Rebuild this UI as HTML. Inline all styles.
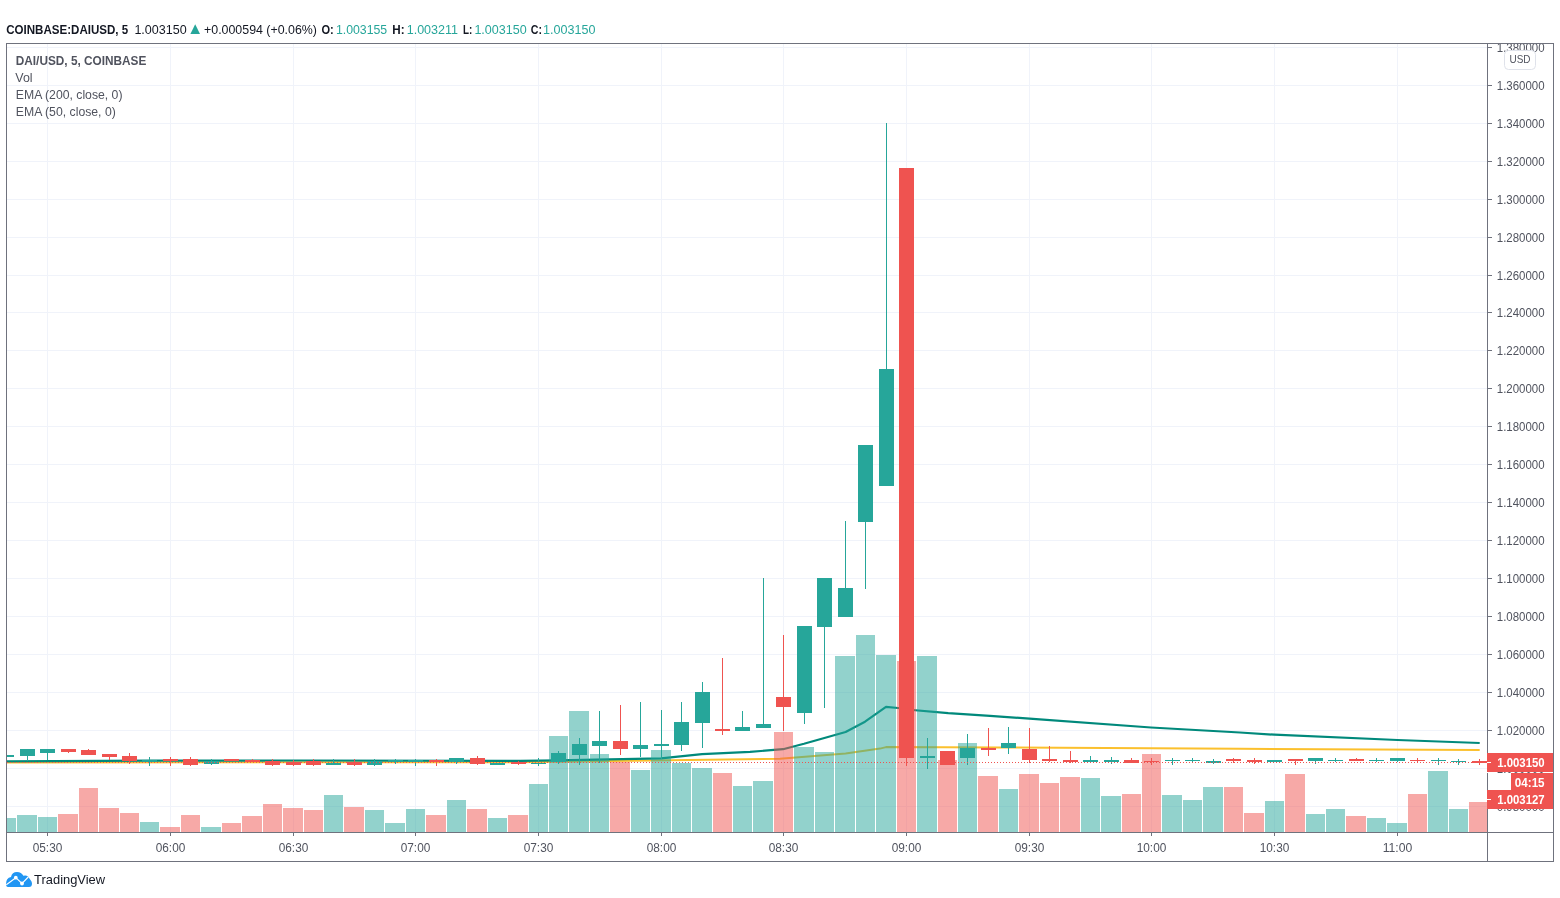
<!DOCTYPE html><html><head><meta charset="utf-8"><style>html,body{margin:0;padding:0;width:1560px;height:898px;overflow:hidden;background:#fff}</style></head><body><svg width="1560" height="898" viewBox="0 0 1560 898" style="position:absolute;left:0;top:0;will-change:transform">
<rect x="0" y="0" width="1560" height="898" fill="#ffffff"/>
<defs><clipPath id="pane"><rect x="7" y="44" width="1480" height="788"/></clipPath></defs>
<g clip-path="url(#pane)" shape-rendering="crispEdges">
<rect x="7" y="47" width="1480" height="1" fill="#f0f3fa"/>
<rect x="7" y="85" width="1480" height="1" fill="#f0f3fa"/>
<rect x="7" y="123" width="1480" height="1" fill="#f0f3fa"/>
<rect x="7" y="161" width="1480" height="1" fill="#f0f3fa"/>
<rect x="7" y="199" width="1480" height="1" fill="#f0f3fa"/>
<rect x="7" y="237" width="1480" height="1" fill="#f0f3fa"/>
<rect x="7" y="275" width="1480" height="1" fill="#f0f3fa"/>
<rect x="7" y="312" width="1480" height="1" fill="#f0f3fa"/>
<rect x="7" y="350" width="1480" height="1" fill="#f0f3fa"/>
<rect x="7" y="388" width="1480" height="1" fill="#f0f3fa"/>
<rect x="7" y="426" width="1480" height="1" fill="#f0f3fa"/>
<rect x="7" y="464" width="1480" height="1" fill="#f0f3fa"/>
<rect x="7" y="502" width="1480" height="1" fill="#f0f3fa"/>
<rect x="7" y="540" width="1480" height="1" fill="#f0f3fa"/>
<rect x="7" y="578" width="1480" height="1" fill="#f0f3fa"/>
<rect x="7" y="616" width="1480" height="1" fill="#f0f3fa"/>
<rect x="7" y="654" width="1480" height="1" fill="#f0f3fa"/>
<rect x="7" y="692" width="1480" height="1" fill="#f0f3fa"/>
<rect x="7" y="730" width="1480" height="1" fill="#f0f3fa"/>
<rect x="7" y="768" width="1480" height="1" fill="#f0f3fa"/>
<rect x="7" y="806" width="1480" height="1" fill="#f0f3fa"/>
<rect x="47" y="44" width="1" height="788" fill="#f0f3fa"/>
<rect x="170" y="44" width="1" height="788" fill="#f0f3fa"/>
<rect x="293" y="44" width="1" height="788" fill="#f0f3fa"/>
<rect x="415" y="44" width="1" height="788" fill="#f0f3fa"/>
<rect x="538" y="44" width="1" height="788" fill="#f0f3fa"/>
<rect x="661" y="44" width="1" height="788" fill="#f0f3fa"/>
<rect x="783" y="44" width="1" height="788" fill="#f0f3fa"/>
<rect x="906" y="44" width="1" height="788" fill="#f0f3fa"/>
<rect x="1029" y="44" width="1" height="788" fill="#f0f3fa"/>
<rect x="1151" y="44" width="1" height="788" fill="#f0f3fa"/>
<rect x="1274" y="44" width="1" height="788" fill="#f0f3fa"/>
<rect x="1397" y="44" width="1" height="788" fill="#f0f3fa"/>
</g>
<g clip-path="url(#pane)">
<polyline fill="none" stroke="#fbc02d" stroke-width="2" stroke-linejoin="round" points="6,762.4 520,762.2 780,758.7 845.6,753.6 880,748.6 886,747.1 1000,747.4 1240,748.8 1479.7,750"/>
<polyline fill="none" stroke="#00897b" stroke-width="2.2" stroke-linejoin="round" points="6,761.4 150,760.6 300,760.5 520,760.8 558,760.3 661,758.3 702,754.2 750,751.9 783,749.2 804,743.8 845.6,732 865,721.7 886,706.8 898,708 906.8,709.5 948.2,713.2 990,715.8 1029.5,718.7 1151,727.5 1240,732.5 1274.3,734.7 1397.5,740 1479.7,743"/>
</g>
<g clip-path="url(#pane)" shape-rendering="crispEdges">
<rect x="-3" y="818" width="19" height="14" fill="rgba(38,166,154,0.5)"/>
<rect x="17" y="815" width="20" height="17" fill="rgba(38,166,154,0.5)"/>
<rect x="38" y="817" width="19" height="15" fill="rgba(38,166,154,0.5)"/>
<rect x="58" y="814" width="20" height="18" fill="rgba(239,83,80,0.5)"/>
<rect x="79" y="788" width="19" height="44" fill="rgba(239,83,80,0.5)"/>
<rect x="99" y="808" width="20" height="24" fill="rgba(239,83,80,0.5)"/>
<rect x="120" y="813" width="19" height="19" fill="rgba(239,83,80,0.5)"/>
<rect x="140" y="822" width="19" height="10" fill="rgba(38,166,154,0.5)"/>
<rect x="160" y="827" width="20" height="5" fill="rgba(239,83,80,0.5)"/>
<rect x="181" y="815" width="19" height="17" fill="rgba(239,83,80,0.5)"/>
<rect x="201" y="827" width="20" height="5" fill="rgba(38,166,154,0.5)"/>
<rect x="222" y="823" width="19" height="9" fill="rgba(239,83,80,0.5)"/>
<rect x="242" y="816" width="20" height="16" fill="rgba(239,83,80,0.5)"/>
<rect x="263" y="804" width="19" height="28" fill="rgba(239,83,80,0.5)"/>
<rect x="283" y="808" width="20" height="24" fill="rgba(239,83,80,0.5)"/>
<rect x="304" y="810" width="19" height="22" fill="rgba(239,83,80,0.5)"/>
<rect x="324" y="795" width="19" height="37" fill="rgba(38,166,154,0.5)"/>
<rect x="344" y="807" width="20" height="25" fill="rgba(239,83,80,0.5)"/>
<rect x="365" y="810" width="19" height="22" fill="rgba(38,166,154,0.5)"/>
<rect x="385" y="823" width="20" height="9" fill="rgba(38,166,154,0.5)"/>
<rect x="406" y="809" width="19" height="23" fill="rgba(38,166,154,0.5)"/>
<rect x="426" y="815" width="20" height="17" fill="rgba(239,83,80,0.5)"/>
<rect x="447" y="800" width="19" height="32" fill="rgba(38,166,154,0.5)"/>
<rect x="467" y="809" width="20" height="23" fill="rgba(239,83,80,0.5)"/>
<rect x="488" y="818" width="19" height="14" fill="rgba(38,166,154,0.5)"/>
<rect x="508" y="815" width="20" height="17" fill="rgba(239,83,80,0.5)"/>
<rect x="529" y="784" width="19" height="48" fill="rgba(38,166,154,0.5)"/>
<rect x="549" y="736" width="19" height="96" fill="rgba(38,166,154,0.5)"/>
<rect x="569" y="711" width="20" height="121" fill="rgba(38,166,154,0.5)"/>
<rect x="590" y="754" width="19" height="78" fill="rgba(38,166,154,0.5)"/>
<rect x="610" y="762" width="20" height="70" fill="rgba(239,83,80,0.5)"/>
<rect x="631" y="770" width="19" height="62" fill="rgba(38,166,154,0.5)"/>
<rect x="651" y="750" width="20" height="82" fill="rgba(38,166,154,0.5)"/>
<rect x="672" y="763" width="19" height="69" fill="rgba(38,166,154,0.5)"/>
<rect x="692" y="768" width="20" height="64" fill="rgba(38,166,154,0.5)"/>
<rect x="713" y="773" width="19" height="59" fill="rgba(239,83,80,0.5)"/>
<rect x="733" y="786" width="19" height="46" fill="rgba(38,166,154,0.5)"/>
<rect x="753" y="781" width="20" height="51" fill="rgba(38,166,154,0.5)"/>
<rect x="774" y="732" width="19" height="100" fill="rgba(239,83,80,0.5)"/>
<rect x="794" y="747" width="20" height="85" fill="rgba(38,166,154,0.5)"/>
<rect x="815" y="752" width="19" height="80" fill="rgba(38,166,154,0.5)"/>
<rect x="835" y="656" width="20" height="176" fill="rgba(38,166,154,0.5)"/>
<rect x="856" y="635" width="19" height="197" fill="rgba(38,166,154,0.5)"/>
<rect x="876" y="655" width="20" height="177" fill="rgba(38,166,154,0.5)"/>
<rect x="897" y="661" width="19" height="171" fill="rgba(239,83,80,0.5)"/>
<rect x="917" y="656" width="20" height="176" fill="rgba(38,166,154,0.5)"/>
<rect x="938" y="760" width="19" height="72" fill="rgba(239,83,80,0.5)"/>
<rect x="958" y="743" width="19" height="89" fill="rgba(38,166,154,0.5)"/>
<rect x="978" y="776" width="20" height="56" fill="rgba(239,83,80,0.5)"/>
<rect x="999" y="789" width="19" height="43" fill="rgba(38,166,154,0.5)"/>
<rect x="1019" y="774" width="20" height="58" fill="rgba(239,83,80,0.5)"/>
<rect x="1040" y="783" width="19" height="49" fill="rgba(239,83,80,0.5)"/>
<rect x="1060" y="777" width="20" height="55" fill="rgba(239,83,80,0.5)"/>
<rect x="1081" y="778" width="19" height="54" fill="rgba(38,166,154,0.5)"/>
<rect x="1101" y="796" width="20" height="36" fill="rgba(38,166,154,0.5)"/>
<rect x="1122" y="794" width="19" height="38" fill="rgba(239,83,80,0.5)"/>
<rect x="1142" y="754" width="19" height="78" fill="rgba(239,83,80,0.5)"/>
<rect x="1162" y="795" width="20" height="37" fill="rgba(38,166,154,0.5)"/>
<rect x="1183" y="800" width="19" height="32" fill="rgba(38,166,154,0.5)"/>
<rect x="1203" y="787" width="20" height="45" fill="rgba(38,166,154,0.5)"/>
<rect x="1224" y="787" width="19" height="45" fill="rgba(239,83,80,0.5)"/>
<rect x="1244" y="813" width="20" height="19" fill="rgba(239,83,80,0.5)"/>
<rect x="1265" y="801" width="19" height="31" fill="rgba(38,166,154,0.5)"/>
<rect x="1285" y="774" width="20" height="58" fill="rgba(239,83,80,0.5)"/>
<rect x="1306" y="814" width="19" height="18" fill="rgba(38,166,154,0.5)"/>
<rect x="1326" y="809" width="19" height="23" fill="rgba(38,166,154,0.5)"/>
<rect x="1346" y="816" width="20" height="16" fill="rgba(239,83,80,0.5)"/>
<rect x="1367" y="818" width="19" height="14" fill="rgba(38,166,154,0.5)"/>
<rect x="1387" y="823" width="20" height="9" fill="rgba(38,166,154,0.5)"/>
<rect x="1408" y="794" width="19" height="38" fill="rgba(239,83,80,0.5)"/>
<rect x="1428" y="771" width="20" height="61" fill="rgba(38,166,154,0.5)"/>
<rect x="1449" y="809" width="19" height="23" fill="rgba(38,166,154,0.5)"/>
<rect x="1469" y="802" width="20" height="30" fill="rgba(239,83,80,0.5)"/>
</g>
<g clip-path="url(#pane)" shape-rendering="crispEdges">
<rect x="-1" y="755" width="15" height="2" fill="#26a69a"/>
<rect x="6" y="755" width="1" height="2" fill="#26a69a"/>
<rect x="20" y="749" width="15" height="7" fill="#26a69a"/>
<rect x="27" y="749" width="1" height="12" fill="#26a69a"/>
<rect x="40" y="749" width="15" height="4" fill="#26a69a"/>
<rect x="47" y="749" width="1" height="11" fill="#26a69a"/>
<rect x="61" y="749" width="15" height="3" fill="#ef5350"/>
<rect x="68" y="749" width="1" height="4" fill="#ef5350"/>
<rect x="81" y="750" width="15" height="5" fill="#ef5350"/>
<rect x="88" y="749" width="1" height="6" fill="#ef5350"/>
<rect x="102" y="754" width="15" height="3" fill="#ef5350"/>
<rect x="109" y="754" width="1" height="6" fill="#ef5350"/>
<rect x="122" y="756" width="15" height="5" fill="#ef5350"/>
<rect x="129" y="753" width="1" height="11" fill="#ef5350"/>
<rect x="142" y="760" width="15" height="2" fill="#26a69a"/>
<rect x="149" y="757" width="1" height="9" fill="#26a69a"/>
<rect x="163" y="759" width="15" height="2" fill="#ef5350"/>
<rect x="170" y="757" width="1" height="9" fill="#ef5350"/>
<rect x="183" y="759" width="15" height="6" fill="#ef5350"/>
<rect x="190" y="757" width="1" height="9" fill="#ef5350"/>
<rect x="204" y="761" width="15" height="3" fill="#26a69a"/>
<rect x="211" y="759" width="1" height="6" fill="#26a69a"/>
<rect x="224" y="759" width="15" height="2" fill="#ef5350"/>
<rect x="231" y="759" width="1" height="2" fill="#ef5350"/>
<rect x="245" y="760" width="15" height="2" fill="#ef5350"/>
<rect x="252" y="759" width="1" height="3" fill="#ef5350"/>
<rect x="265" y="761" width="15" height="4" fill="#ef5350"/>
<rect x="272" y="759" width="1" height="7" fill="#ef5350"/>
<rect x="286" y="762" width="15" height="3" fill="#ef5350"/>
<rect x="293" y="760" width="1" height="6" fill="#ef5350"/>
<rect x="306" y="761" width="15" height="4" fill="#ef5350"/>
<rect x="313" y="759" width="1" height="7" fill="#ef5350"/>
<rect x="326" y="763" width="15" height="2" fill="#26a69a"/>
<rect x="333" y="759" width="1" height="6" fill="#26a69a"/>
<rect x="347" y="762" width="15" height="3" fill="#ef5350"/>
<rect x="354" y="759" width="1" height="7" fill="#ef5350"/>
<rect x="367" y="761" width="15" height="4" fill="#26a69a"/>
<rect x="374" y="759" width="1" height="7" fill="#26a69a"/>
<rect x="388" y="760" width="15" height="2" fill="#26a69a"/>
<rect x="395" y="759" width="1" height="5" fill="#26a69a"/>
<rect x="408" y="760" width="15" height="2" fill="#26a69a"/>
<rect x="415" y="759" width="1" height="7" fill="#26a69a"/>
<rect x="429" y="760" width="15" height="2" fill="#ef5350"/>
<rect x="436" y="759" width="1" height="7" fill="#ef5350"/>
<rect x="449" y="758" width="15" height="4" fill="#26a69a"/>
<rect x="456" y="758" width="1" height="6" fill="#26a69a"/>
<rect x="470" y="758" width="15" height="6" fill="#ef5350"/>
<rect x="477" y="756" width="1" height="9" fill="#ef5350"/>
<rect x="490" y="763" width="15" height="2" fill="#26a69a"/>
<rect x="497" y="763" width="1" height="2" fill="#26a69a"/>
<rect x="511" y="762" width="15" height="2" fill="#ef5350"/>
<rect x="518" y="761" width="1" height="4" fill="#ef5350"/>
<rect x="531" y="763" width="15" height="1" fill="#26a69a"/>
<rect x="538" y="758" width="1" height="8" fill="#26a69a"/>
<rect x="551" y="753" width="15" height="9" fill="#26a69a"/>
<rect x="558" y="751" width="1" height="13" fill="#26a69a"/>
<rect x="572" y="744" width="15" height="11" fill="#26a69a"/>
<rect x="579" y="738" width="1" height="27" fill="#26a69a"/>
<rect x="592" y="741" width="15" height="5" fill="#26a69a"/>
<rect x="599" y="711" width="1" height="52" fill="#26a69a"/>
<rect x="613" y="741" width="15" height="8" fill="#ef5350"/>
<rect x="620" y="705" width="1" height="50" fill="#ef5350"/>
<rect x="633" y="745" width="15" height="4" fill="#26a69a"/>
<rect x="640" y="702" width="1" height="55" fill="#26a69a"/>
<rect x="654" y="744" width="15" height="2" fill="#26a69a"/>
<rect x="661" y="710" width="1" height="49" fill="#26a69a"/>
<rect x="674" y="722" width="15" height="23" fill="#26a69a"/>
<rect x="681" y="702" width="1" height="49" fill="#26a69a"/>
<rect x="695" y="692" width="15" height="31" fill="#26a69a"/>
<rect x="702" y="682" width="1" height="66" fill="#26a69a"/>
<rect x="715" y="729" width="15" height="2" fill="#ef5350"/>
<rect x="722" y="658" width="1" height="77" fill="#ef5350"/>
<rect x="735" y="727" width="15" height="4" fill="#26a69a"/>
<rect x="742" y="711" width="1" height="20" fill="#26a69a"/>
<rect x="756" y="724" width="15" height="4" fill="#26a69a"/>
<rect x="763" y="578" width="1" height="150" fill="#26a69a"/>
<rect x="776" y="697" width="15" height="10" fill="#ef5350"/>
<rect x="783" y="635" width="1" height="96" fill="#ef5350"/>
<rect x="797" y="626" width="15" height="87" fill="#26a69a"/>
<rect x="804" y="626" width="1" height="98" fill="#26a69a"/>
<rect x="817" y="578" width="15" height="49" fill="#26a69a"/>
<rect x="824" y="578" width="1" height="130" fill="#26a69a"/>
<rect x="838" y="588" width="15" height="29" fill="#26a69a"/>
<rect x="845" y="521" width="1" height="96" fill="#26a69a"/>
<rect x="858" y="445" width="15" height="77" fill="#26a69a"/>
<rect x="865" y="445" width="1" height="144" fill="#26a69a"/>
<rect x="879" y="369" width="15" height="117" fill="#26a69a"/>
<rect x="886" y="123" width="1" height="363" fill="#26a69a"/>
<rect x="899" y="168" width="15" height="590" fill="#ef5350"/>
<rect x="906" y="168" width="1" height="598" fill="#ef5350"/>
<rect x="920" y="756" width="15" height="2" fill="#26a69a"/>
<rect x="927" y="738" width="1" height="31" fill="#26a69a"/>
<rect x="940" y="751" width="15" height="14" fill="#ef5350"/>
<rect x="947" y="751" width="1" height="14" fill="#ef5350"/>
<rect x="960" y="748" width="15" height="10" fill="#26a69a"/>
<rect x="967" y="734" width="1" height="31" fill="#26a69a"/>
<rect x="981" y="748" width="15" height="2" fill="#ef5350"/>
<rect x="988" y="728" width="1" height="28" fill="#ef5350"/>
<rect x="1001" y="743" width="15" height="5" fill="#26a69a"/>
<rect x="1008" y="727" width="1" height="27" fill="#26a69a"/>
<rect x="1022" y="749" width="15" height="11" fill="#ef5350"/>
<rect x="1029" y="728" width="1" height="35" fill="#ef5350"/>
<rect x="1042" y="759" width="15" height="2" fill="#ef5350"/>
<rect x="1049" y="746" width="1" height="16" fill="#ef5350"/>
<rect x="1063" y="760" width="15" height="2" fill="#ef5350"/>
<rect x="1070" y="751" width="1" height="12" fill="#ef5350"/>
<rect x="1083" y="760" width="15" height="2" fill="#26a69a"/>
<rect x="1090" y="756" width="1" height="6" fill="#26a69a"/>
<rect x="1104" y="760" width="15" height="2" fill="#26a69a"/>
<rect x="1111" y="757" width="1" height="7" fill="#26a69a"/>
<rect x="1124" y="760" width="15" height="3" fill="#ef5350"/>
<rect x="1131" y="758" width="1" height="5" fill="#ef5350"/>
<rect x="1144" y="761" width="15" height="1" fill="#ef5350"/>
<rect x="1151" y="758" width="1" height="7" fill="#ef5350"/>
<rect x="1165" y="760" width="15" height="1" fill="#26a69a"/>
<rect x="1172" y="758" width="1" height="7" fill="#26a69a"/>
<rect x="1185" y="760" width="15" height="1" fill="#26a69a"/>
<rect x="1192" y="758" width="1" height="5" fill="#26a69a"/>
<rect x="1206" y="761" width="15" height="2" fill="#26a69a"/>
<rect x="1213" y="759" width="1" height="5" fill="#26a69a"/>
<rect x="1226" y="759" width="15" height="2" fill="#ef5350"/>
<rect x="1233" y="758" width="1" height="5" fill="#ef5350"/>
<rect x="1247" y="760" width="15" height="2" fill="#ef5350"/>
<rect x="1254" y="758" width="1" height="6" fill="#ef5350"/>
<rect x="1267" y="760" width="15" height="2" fill="#26a69a"/>
<rect x="1274" y="760" width="1" height="2" fill="#26a69a"/>
<rect x="1288" y="759" width="15" height="2" fill="#ef5350"/>
<rect x="1295" y="759" width="1" height="6" fill="#ef5350"/>
<rect x="1308" y="758" width="15" height="3" fill="#26a69a"/>
<rect x="1315" y="758" width="1" height="6" fill="#26a69a"/>
<rect x="1328" y="760" width="15" height="1" fill="#26a69a"/>
<rect x="1335" y="758" width="1" height="4" fill="#26a69a"/>
<rect x="1349" y="759" width="15" height="2" fill="#ef5350"/>
<rect x="1356" y="758" width="1" height="3" fill="#ef5350"/>
<rect x="1369" y="760" width="15" height="1" fill="#26a69a"/>
<rect x="1376" y="758" width="1" height="4" fill="#26a69a"/>
<rect x="1390" y="758" width="15" height="3" fill="#26a69a"/>
<rect x="1397" y="758" width="1" height="4" fill="#26a69a"/>
<rect x="1410" y="760" width="15" height="1" fill="#ef5350"/>
<rect x="1417" y="758" width="1" height="4" fill="#ef5350"/>
<rect x="1431" y="760" width="15" height="1" fill="#26a69a"/>
<rect x="1438" y="758" width="1" height="7" fill="#26a69a"/>
<rect x="1451" y="761" width="15" height="1" fill="#26a69a"/>
<rect x="1458" y="759" width="1" height="6" fill="#26a69a"/>
<rect x="1472" y="761" width="15" height="2" fill="#ef5350"/>
<rect x="1479" y="759" width="1" height="6" fill="#ef5350"/>
</g>
<line x1="7" y1="762.5" x2="1487" y2="762.5" stroke="#ef5350" stroke-width="1" stroke-dasharray="1 2" shape-rendering="crispEdges"/>
<g shape-rendering="crispEdges">
<rect x="6" y="43" width="1548" height="1" fill="#6f727d"/>
<rect x="6" y="832" width="1548" height="1" fill="#6f727d"/>
<rect x="6" y="861" width="1548" height="1" fill="#6f727d"/>
<rect x="6" y="43" width="1" height="819" fill="#6f727d"/>
<rect x="1487" y="43" width="1" height="819" fill="#6f727d"/>
<rect x="1553" y="43" width="1" height="819" fill="#6f727d"/>
</g>
<svg x="1488" y="44" width="65" height="788" overflow="hidden">
<rect x="0" y="3" width="4" height="1" fill="#6f727d" shape-rendering="crispEdges"/>
<text x="8.8" y="7.5" font-family="Liberation Sans, sans-serif" font-size="12" fill="#50535e" textLength="47.8" lengthAdjust="spacingAndGlyphs">1.380000</text>
<rect x="0" y="41" width="4" height="1" fill="#6f727d" shape-rendering="crispEdges"/>
<text x="8.8" y="45.5" font-family="Liberation Sans, sans-serif" font-size="12" fill="#50535e" textLength="47.8" lengthAdjust="spacingAndGlyphs">1.360000</text>
<rect x="0" y="79" width="4" height="1" fill="#6f727d" shape-rendering="crispEdges"/>
<text x="8.8" y="83.5" font-family="Liberation Sans, sans-serif" font-size="12" fill="#50535e" textLength="47.8" lengthAdjust="spacingAndGlyphs">1.340000</text>
<rect x="0" y="117" width="4" height="1" fill="#6f727d" shape-rendering="crispEdges"/>
<text x="8.8" y="121.5" font-family="Liberation Sans, sans-serif" font-size="12" fill="#50535e" textLength="47.8" lengthAdjust="spacingAndGlyphs">1.320000</text>
<rect x="0" y="155" width="4" height="1" fill="#6f727d" shape-rendering="crispEdges"/>
<text x="8.8" y="159.5" font-family="Liberation Sans, sans-serif" font-size="12" fill="#50535e" textLength="47.8" lengthAdjust="spacingAndGlyphs">1.300000</text>
<rect x="0" y="193" width="4" height="1" fill="#6f727d" shape-rendering="crispEdges"/>
<text x="8.8" y="197.5" font-family="Liberation Sans, sans-serif" font-size="12" fill="#50535e" textLength="47.8" lengthAdjust="spacingAndGlyphs">1.280000</text>
<rect x="0" y="231" width="4" height="1" fill="#6f727d" shape-rendering="crispEdges"/>
<text x="8.8" y="235.5" font-family="Liberation Sans, sans-serif" font-size="12" fill="#50535e" textLength="47.8" lengthAdjust="spacingAndGlyphs">1.260000</text>
<rect x="0" y="268" width="4" height="1" fill="#6f727d" shape-rendering="crispEdges"/>
<text x="8.8" y="272.5" font-family="Liberation Sans, sans-serif" font-size="12" fill="#50535e" textLength="47.8" lengthAdjust="spacingAndGlyphs">1.240000</text>
<rect x="0" y="306" width="4" height="1" fill="#6f727d" shape-rendering="crispEdges"/>
<text x="8.8" y="310.5" font-family="Liberation Sans, sans-serif" font-size="12" fill="#50535e" textLength="47.8" lengthAdjust="spacingAndGlyphs">1.220000</text>
<rect x="0" y="344" width="4" height="1" fill="#6f727d" shape-rendering="crispEdges"/>
<text x="8.8" y="348.5" font-family="Liberation Sans, sans-serif" font-size="12" fill="#50535e" textLength="47.8" lengthAdjust="spacingAndGlyphs">1.200000</text>
<rect x="0" y="382" width="4" height="1" fill="#6f727d" shape-rendering="crispEdges"/>
<text x="8.8" y="386.5" font-family="Liberation Sans, sans-serif" font-size="12" fill="#50535e" textLength="47.8" lengthAdjust="spacingAndGlyphs">1.180000</text>
<rect x="0" y="420" width="4" height="1" fill="#6f727d" shape-rendering="crispEdges"/>
<text x="8.8" y="424.5" font-family="Liberation Sans, sans-serif" font-size="12" fill="#50535e" textLength="47.8" lengthAdjust="spacingAndGlyphs">1.160000</text>
<rect x="0" y="458" width="4" height="1" fill="#6f727d" shape-rendering="crispEdges"/>
<text x="8.8" y="462.5" font-family="Liberation Sans, sans-serif" font-size="12" fill="#50535e" textLength="47.8" lengthAdjust="spacingAndGlyphs">1.140000</text>
<rect x="0" y="496" width="4" height="1" fill="#6f727d" shape-rendering="crispEdges"/>
<text x="8.8" y="500.5" font-family="Liberation Sans, sans-serif" font-size="12" fill="#50535e" textLength="47.8" lengthAdjust="spacingAndGlyphs">1.120000</text>
<rect x="0" y="534" width="4" height="1" fill="#6f727d" shape-rendering="crispEdges"/>
<text x="8.8" y="538.5" font-family="Liberation Sans, sans-serif" font-size="12" fill="#50535e" textLength="47.8" lengthAdjust="spacingAndGlyphs">1.100000</text>
<rect x="0" y="572" width="4" height="1" fill="#6f727d" shape-rendering="crispEdges"/>
<text x="8.8" y="576.5" font-family="Liberation Sans, sans-serif" font-size="12" fill="#50535e" textLength="47.8" lengthAdjust="spacingAndGlyphs">1.080000</text>
<rect x="0" y="610" width="4" height="1" fill="#6f727d" shape-rendering="crispEdges"/>
<text x="8.8" y="614.5" font-family="Liberation Sans, sans-serif" font-size="12" fill="#50535e" textLength="47.8" lengthAdjust="spacingAndGlyphs">1.060000</text>
<rect x="0" y="648" width="4" height="1" fill="#6f727d" shape-rendering="crispEdges"/>
<text x="8.8" y="652.5" font-family="Liberation Sans, sans-serif" font-size="12" fill="#50535e" textLength="47.8" lengthAdjust="spacingAndGlyphs">1.040000</text>
<rect x="0" y="686" width="4" height="1" fill="#6f727d" shape-rendering="crispEdges"/>
<text x="8.8" y="690.5" font-family="Liberation Sans, sans-serif" font-size="12" fill="#50535e" textLength="47.8" lengthAdjust="spacingAndGlyphs">1.020000</text>
<rect x="0" y="724" width="4" height="1" fill="#6f727d" shape-rendering="crispEdges"/>
<text x="8.8" y="728.5" font-family="Liberation Sans, sans-serif" font-size="12" fill="#50535e" textLength="47.8" lengthAdjust="spacingAndGlyphs">1.000000</text>
<rect x="0" y="762" width="4" height="1" fill="#6f727d" shape-rendering="crispEdges"/>
<text x="8.8" y="766.5" font-family="Liberation Sans, sans-serif" font-size="12" fill="#50535e" textLength="47.8" lengthAdjust="spacingAndGlyphs">0.980000</text>
</svg>
<rect x="1504.5" y="50.5" width="31" height="19" rx="4" ry="4" fill="#ffffff" stroke="#dfe2ea" stroke-width="1"/>
<text x="1520" y="63" font-family="Liberation Sans, sans-serif" font-size="11.5" fill="#50535e" text-anchor="middle" textLength="21" lengthAdjust="spacingAndGlyphs">USD</text>
<rect x="1487" y="753" width="66" height="19" fill="#ef5350" shape-rendering="crispEdges"/>
<rect x="1487" y="762" width="4" height="1" fill="#ffffff" shape-rendering="crispEdges"/>
<rect x="1487" y="772" width="66" height="1" fill="#ffffff" shape-rendering="crispEdges"/>
<rect x="1511" y="773" width="42" height="17" fill="#ef5350" shape-rendering="crispEdges"/>
<rect x="1487" y="790" width="66" height="19" fill="#ef5350" shape-rendering="crispEdges"/>
<rect x="1487" y="799" width="4" height="1" fill="#ffffff" shape-rendering="crispEdges"/>
<svg x="1488" y="772" width="65" height="1" overflow="hidden"><text x="8.8" y="1.2" font-family="Liberation Sans, sans-serif" font-size="12" fill="#50535e" textLength="47.8" lengthAdjust="spacingAndGlyphs">1.000000</text></svg>
<text x="1497.2" y="767" font-family="Liberation Sans, sans-serif" font-size="12" font-weight="bold" fill="#ffffff" textLength="47.5" lengthAdjust="spacingAndGlyphs">1.003150</text>
<text x="1514.8" y="787" font-family="Liberation Sans, sans-serif" font-size="12" font-weight="bold" fill="#ffffff" textLength="29.8" lengthAdjust="spacingAndGlyphs">04:15</text>
<text x="1497.2" y="804" font-family="Liberation Sans, sans-serif" font-size="12" font-weight="bold" fill="#ffffff" textLength="47.5" lengthAdjust="spacingAndGlyphs">1.003127</text>
<rect x="47" y="833" width="1" height="3" fill="#6f727d" shape-rendering="crispEdges"/>
<text x="47.5" y="852" font-family="Liberation Sans, sans-serif" font-size="12" fill="#50535e" text-anchor="middle" textLength="29.6" lengthAdjust="spacingAndGlyphs">05:30</text>
<rect x="170" y="833" width="1" height="3" fill="#6f727d" shape-rendering="crispEdges"/>
<text x="170.5" y="852" font-family="Liberation Sans, sans-serif" font-size="12" fill="#50535e" text-anchor="middle" textLength="29.6" lengthAdjust="spacingAndGlyphs">06:00</text>
<rect x="293" y="833" width="1" height="3" fill="#6f727d" shape-rendering="crispEdges"/>
<text x="293.5" y="852" font-family="Liberation Sans, sans-serif" font-size="12" fill="#50535e" text-anchor="middle" textLength="29.6" lengthAdjust="spacingAndGlyphs">06:30</text>
<rect x="415" y="833" width="1" height="3" fill="#6f727d" shape-rendering="crispEdges"/>
<text x="415.5" y="852" font-family="Liberation Sans, sans-serif" font-size="12" fill="#50535e" text-anchor="middle" textLength="29.6" lengthAdjust="spacingAndGlyphs">07:00</text>
<rect x="538" y="833" width="1" height="3" fill="#6f727d" shape-rendering="crispEdges"/>
<text x="538.5" y="852" font-family="Liberation Sans, sans-serif" font-size="12" fill="#50535e" text-anchor="middle" textLength="29.6" lengthAdjust="spacingAndGlyphs">07:30</text>
<rect x="661" y="833" width="1" height="3" fill="#6f727d" shape-rendering="crispEdges"/>
<text x="661.5" y="852" font-family="Liberation Sans, sans-serif" font-size="12" fill="#50535e" text-anchor="middle" textLength="29.6" lengthAdjust="spacingAndGlyphs">08:00</text>
<rect x="783" y="833" width="1" height="3" fill="#6f727d" shape-rendering="crispEdges"/>
<text x="783.5" y="852" font-family="Liberation Sans, sans-serif" font-size="12" fill="#50535e" text-anchor="middle" textLength="29.6" lengthAdjust="spacingAndGlyphs">08:30</text>
<rect x="906" y="833" width="1" height="3" fill="#6f727d" shape-rendering="crispEdges"/>
<text x="906.5" y="852" font-family="Liberation Sans, sans-serif" font-size="12" fill="#50535e" text-anchor="middle" textLength="29.6" lengthAdjust="spacingAndGlyphs">09:00</text>
<rect x="1029" y="833" width="1" height="3" fill="#6f727d" shape-rendering="crispEdges"/>
<text x="1029.5" y="852" font-family="Liberation Sans, sans-serif" font-size="12" fill="#50535e" text-anchor="middle" textLength="29.6" lengthAdjust="spacingAndGlyphs">09:30</text>
<rect x="1151" y="833" width="1" height="3" fill="#6f727d" shape-rendering="crispEdges"/>
<text x="1151.5" y="852" font-family="Liberation Sans, sans-serif" font-size="12" fill="#50535e" text-anchor="middle" textLength="29.6" lengthAdjust="spacingAndGlyphs">10:00</text>
<rect x="1274" y="833" width="1" height="3" fill="#6f727d" shape-rendering="crispEdges"/>
<text x="1274.5" y="852" font-family="Liberation Sans, sans-serif" font-size="12" fill="#50535e" text-anchor="middle" textLength="29.6" lengthAdjust="spacingAndGlyphs">10:30</text>
<rect x="1397" y="833" width="1" height="3" fill="#6f727d" shape-rendering="crispEdges"/>
<text x="1397.5" y="852" font-family="Liberation Sans, sans-serif" font-size="12" fill="#50535e" text-anchor="middle" textLength="29.6" lengthAdjust="spacingAndGlyphs">11:00</text>
<text x="6.2" y="33.9" font-family="Liberation Sans, sans-serif" font-size="13.5" font-weight="bold" fill="#131722" textLength="122" lengthAdjust="spacingAndGlyphs">COINBASE:DAIUSD, 5</text>
<text x="134.4" y="33.9" font-family="Liberation Sans, sans-serif" font-size="13.5" font-weight="normal" fill="#131722" textLength="52.3" lengthAdjust="spacingAndGlyphs">1.003150</text>
<polygon points="190.4,33.9 195.2,24.3 200,33.9" fill="#26a69a"/>
<text x="204" y="33.9" font-family="Liberation Sans, sans-serif" font-size="13.5" font-weight="normal" fill="#131722" textLength="113" lengthAdjust="spacingAndGlyphs">+0.000594 (+0.06%)</text>
<text x="321.5" y="33.9" font-family="Liberation Sans, sans-serif" font-size="13.5" font-weight="bold" fill="#131722" textLength="12.3" lengthAdjust="spacingAndGlyphs">O:</text>
<text x="335.9" y="33.9" font-family="Liberation Sans, sans-serif" font-size="13.5" font-weight="normal" fill="#26a69a" textLength="51.3" lengthAdjust="spacingAndGlyphs">1.003155</text>
<text x="392.3" y="33.9" font-family="Liberation Sans, sans-serif" font-size="13.5" font-weight="bold" fill="#131722" textLength="12.3" lengthAdjust="spacingAndGlyphs">H:</text>
<text x="406.7" y="33.9" font-family="Liberation Sans, sans-serif" font-size="13.5" font-weight="normal" fill="#26a69a" textLength="51.3" lengthAdjust="spacingAndGlyphs">1.003211</text>
<text x="463" y="33.9" font-family="Liberation Sans, sans-serif" font-size="13.5" font-weight="bold" fill="#131722" textLength="9.3" lengthAdjust="spacingAndGlyphs">L:</text>
<text x="474.4" y="33.9" font-family="Liberation Sans, sans-serif" font-size="13.5" font-weight="normal" fill="#26a69a" textLength="52.3" lengthAdjust="spacingAndGlyphs">1.003150</text>
<text x="530.8" y="33.9" font-family="Liberation Sans, sans-serif" font-size="13.5" font-weight="bold" fill="#131722" textLength="11.2" lengthAdjust="spacingAndGlyphs">C:</text>
<text x="543" y="33.9" font-family="Liberation Sans, sans-serif" font-size="13.5" font-weight="normal" fill="#26a69a" textLength="52.4" lengthAdjust="spacingAndGlyphs">1.003150</text>
<text x="15.8" y="65.1" font-family="Liberation Sans, sans-serif" font-size="12.5" font-weight="bold" fill="#50535e" textLength="130.5" lengthAdjust="spacingAndGlyphs">DAI/USD, 5, COINBASE</text>
<text x="15.3" y="81.7" font-family="Liberation Sans, sans-serif" font-size="12.5" font-weight="normal" fill="#50535e" textLength="17.3" lengthAdjust="spacingAndGlyphs">Vol</text>
<text x="15.8" y="99" font-family="Liberation Sans, sans-serif" font-size="12.5" font-weight="normal" fill="#50535e" textLength="106.7" lengthAdjust="spacingAndGlyphs">EMA (200, close, 0)</text>
<text x="15.8" y="115.9" font-family="Liberation Sans, sans-serif" font-size="12.5" font-weight="normal" fill="#50535e" textLength="100" lengthAdjust="spacingAndGlyphs">EMA (50, close, 0)</text>
<g fill="#2196f3">
<path d="M8,887 Q6,887 6,884 Q6,878 11,877 Q12,872 17,872 Q21.5,872 23.4,875.8 Q26,874.8 28,876.6 L30.5,880 Q32,881.5 32,883.5 Q32,887 29,887 Z"/>
</g>
<polyline points="6.3,884.7 15.8,877.7 22,883.5 28.3,877" fill="none" stroke="#ffffff" stroke-width="1.1"/>
<circle cx="15.8" cy="877.7" r="1.9" fill="#ffffff"/>
<circle cx="22" cy="883.5" r="1.9" fill="#ffffff"/>
<text x="34.1" y="884" font-family="Liberation Sans, sans-serif" font-size="13" font-weight="normal" fill="#131722" textLength="71" lengthAdjust="spacingAndGlyphs">TradingView</text>
</svg></body></html>
